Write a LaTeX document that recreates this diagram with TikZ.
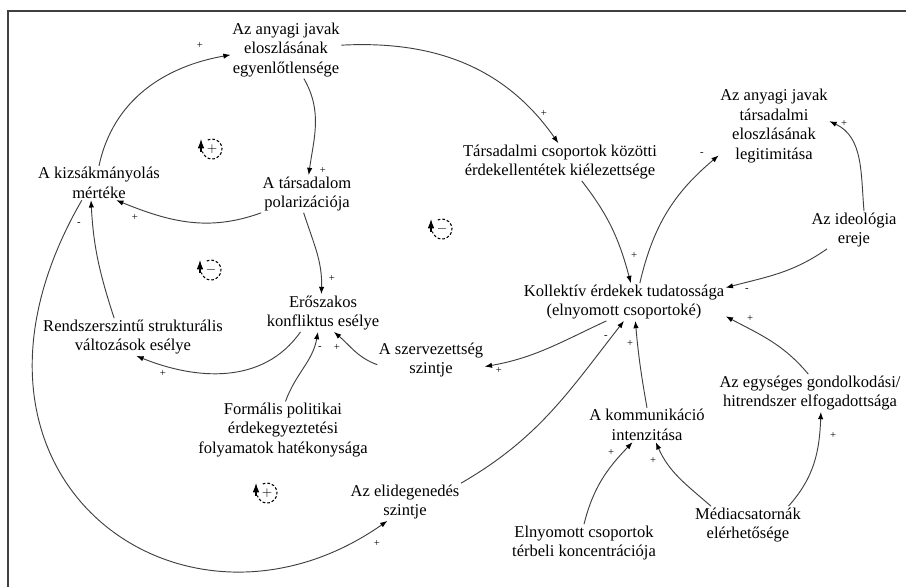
\documentclass[tikz,border=0pt]{standalone}
\usepackage{fontspec}
\setmainfont{Liberation Serif}
\usetikzlibrary{arrows.meta}

\tikzset{
  lbl/.style={align=center, inner sep=1pt, font=\fontsize{12.4}{14.6}\selectfont},
  lnk/.style={draw=black!75, line width=0.7pt, -{Latex[length=5.5pt,width=4pt,color=black]}},
  sgn/.style={inner sep=0pt, font=\footnotesize},
  loopsgn/.style={inner sep=0pt, font=\normalsize},
  loopring/.style={draw=black, line width=0.8pt, dash pattern=on 2pt off 1.5pt},
  frameline/.style={draw=black!75, line width=1.1pt},
}

% loop polarity marker: name, position, sign
\newcommand{\loopmark}[3]{%
  \node[loopsgn] (#1) at (#2) {$#3$};
  \draw[loopring] (#1.center) ++(115:10) arc (115:-165:10);
  \draw[line width=0.8pt,-{Latex[length=7pt,width=5pt]}] (#1.center) ++(-11,-3) -- ++(0,13);
}

\begin{document}
\begin{tikzpicture}[x=0.75pt,y=0.75pt]
\useasboundingbox (0,0) rectangle (906,-587);

% frame
\draw[frameline] (906,-11) -- (8,-11) -- (8,-587);

% variables
\node[lbl] (n1) at (286,-50) {Az anyagi javak\\eloszlásának\\egyenlőtlensége};
\node[lbl] (n2) at (307,-194) {A társadalom\\polarizációja};
\node[lbl] (n3) at (99,-183) {A kizsákmányolás\\mértéke};
\node[lbl] (n4) at (323,-313) {Erőszakos\\konfliktus esélye};
\node[lbl] (n5) at (133,-337) {Rendszerszintű strukturális\\változások esélye};
\node[lbl] (n6) at (283,-430) {Formális politikai\\érdekegyeztetési\\folyamatok hatékonysága};
\node[lbl] (n7) at (431,-360) {A szervezettség\\szintje};
\node[lbl] (n8) at (405,-502) {Az elidegenedés\\szintje};
\node[lbl] (n9) at (560,-162) {Társadalmi csoportok közötti\\érdekellentétek kiélezettsége};
\node[lbl] (n10) at (774,-126) {Az anyagi javak\\társadalmi\\eloszlásának\\legitimitása};
\node[lbl] (n11) at (854,-230) {Az ideológia\\ereje};
\node[lbl] (n12) at (624,-302) {Kollektív érdekek tudatossága\\(elnyomott csoportoké)};
\node[lbl] (n13) at (647,-425) {A kommunikáció\\intenzitása};
\node[lbl] (n14) at (810,-393) {Az egységes gondolkodási/\\hitrendszer elfogadottsága};
\node[lbl] (n15) at (584,-543) {Elnyomott csoportok\\térbeli koncentrációja};
\node[lbl] (n16) at (748,-525) {Médiacsatornák\\elérhetősége};

% causal links
\draw[lnk] (n3.north) to[out=78,in=190] (n1.185);
\draw[lnk] (n1.-58) to[out=-60,in=82] (n2.85);
\draw[lnk] (n2.south west) to[out=-160,in=-22] (n3.-45);
\draw[lnk] (n2.-100) to[out=-72,in=88] (n4.95);
\draw[lnk] (n4.-140) to[out=-125,in=-22] (n5.-80);
\draw[lnk] (n5.135) to[out=108,in=-87] (n3.-115);
\draw[lnk] (n3.-135) .. controls +(-120:320) and +(215:250) .. (n8.-133);
\draw[lnk] (n6.85) to[out=70,in=-100] (n4.-105);
\draw[lnk] (n7.185) to[out=160,in=-40] (n4.-60);
\draw[lnk] (n12.-133) to[out=-155,in=10] (n7.-7);
\draw[lnk] (n8.north east) to[out=30,in=-128] (n12.-90);
\draw[lnk] (n13.north) to[out=100,in=-85] (n12.-59);
\draw[lnk] (n9.-41) to[out=-52,in=105] (n12.70);
\draw[lnk] (n12.50) to[out=77,in=-140] (n10.-152);
\draw[lnk] (n11.62) to[out=95,in=-25] (n10.5);
\draw[lnk] (n11.-145) to[out=-145,in=15] (n12.8);
\draw[lnk] (n14.95) to[out=130,in=-28] (n12.-8);
\draw[lnk] (n1.5) to[out=3,in=125] (n9.95);
\draw[lnk] (n15.north) to[out=76,in=-134] (n13.-130);
\draw[lnk] (n16.153) to[out=139,in=-66] (n13.-63);
\draw[lnk] (n16.25) to[out=48,in=-92] (n14.-60);

% link polarities
\node[sgn] (s1) at (200,-45) {+};
\node[sgn] (s2) at (323,-170) {+};
\node[sgn] (s3) at (135,-217) {+};
\node[sgn] (s4) at (332,-278) {+};
\node[sgn] (s5) at (79,-224) {-};
\node[sgn] (s6) at (163,-373) {+};
\node[sgn] (s7) at (320,-348) {-};
\node[sgn] (s8) at (337,-347) {+};
\node[sgn] (s9) at (377,-543) {+};
\node[sgn] (s10) at (499,-370) {+};
\node[sgn] (s11) at (606,-337) {-};
\node[sgn] (s12) at (630,-343) {+};
\node[sgn] (s13) at (634,-255) {+};
\node[sgn] (s14) at (702,-154) {-};
\node[sgn] (s15) at (844,-123) {+};
\node[sgn] (s16) at (747,-290) {-};
\node[sgn] (s17) at (750,-318) {+};
\node[sgn] (s18) at (544,-113) {+};
\node[sgn] (s19) at (611,-452) {+};
\node[sgn] (s20) at (653,-460) {+};
\node[sgn] (s21) at (833,-435) {+};

% feedback loops
\loopmark{lp1}{212,-149}{+}
\loopmark{lp2}{442,-229}{-}
\loopmark{lp3}{211,-270}{-}
\loopmark{lp4}{267,-493}{+}

\end{tikzpicture}
\end{document}
